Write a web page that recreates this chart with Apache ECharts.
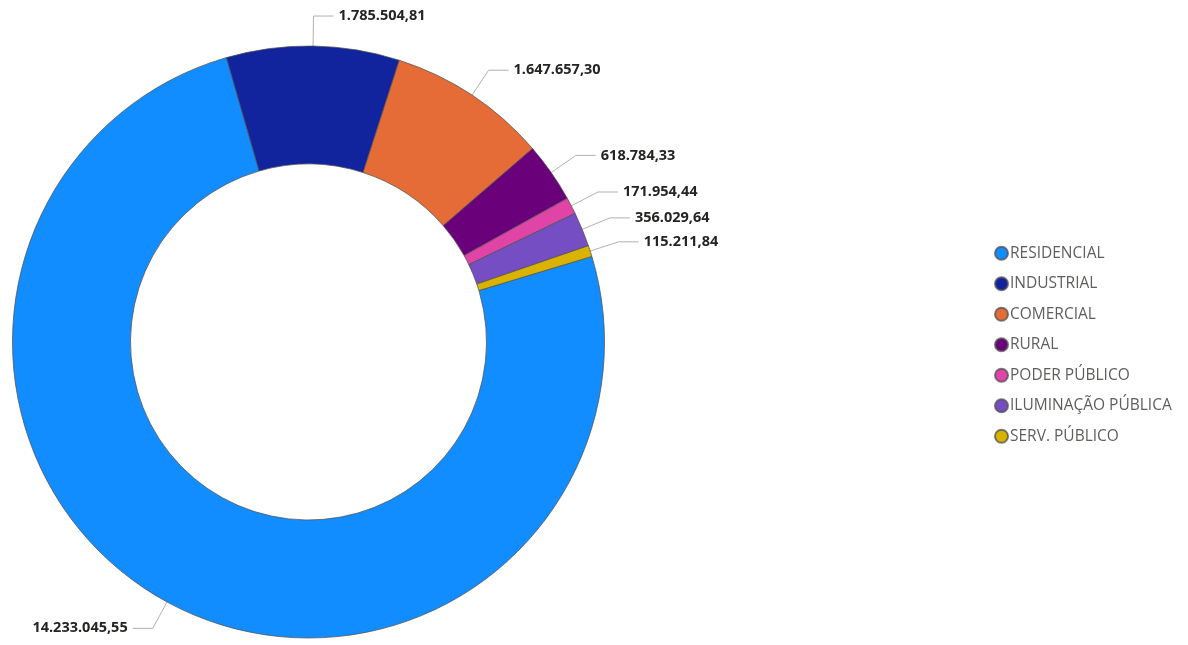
<!DOCTYPE html>
<html>
<head>
<meta charset="utf-8">
<script src="https://cdn.jsdelivr.net/npm/echarts@6/dist/echarts.min.js"></script>
<style>
html,body{margin:0;padding:0;background:#fff;}
#chart{width:1188px;height:645px;}
</style>
</head>
<body>
<div id="chart"></div>
<script>
const categories = ['RESIDENCIAL','INDUSTRIAL','COMERCIAL','RURAL','PODER PÚBLICO','ILUMINAÇÃO PÚBLICA','SERV. PÚBLICO'];
const values = [14233045.55, 1785504.81, 1647657.30, 618784.33, 171954.44, 356029.64, 115211.84];
const colors = ['#118DFF','#12239E','#E66C37','#6B007B','#E044A7','#744EC2','#D9B300'];

function fmtBR(v){
  const parts = v.toFixed(2).split('.');
  parts[0] = parts[0].replace(/\B(?=(\d{3})+(?!\d))/g, '.');
  return parts[0] + ',' + parts[1];
}

const chart = echarts.init(document.getElementById('chart'), null, {renderer:'canvas'});
chart.setOption({
  animation:false,
  color: colors,
  legend:{
    orient:'vertical',
    left:989, top:239,
    itemWidth:13, itemHeight:13, itemGap:12,
    icon:'circle',
    textStyle:{color:'#605E5C', fontSize:15.5, fontFamily:'Open Sans', padding:[0,0,0,-3], lineHeight:18.5},
    data: categories
  },
  series:[{
    type:'pie',
    center:[308.5, 342],
    radius:[178, 296],
    startAngle:16.8,
    clockwise:true,
    avoidLabelOverlap:true,
    itemStyle:{borderColor:'rgba(80,80,80,0.75)', borderWidth:1},
    label:{
      show:true,
      formatter: p => fmtBR(p.value),
      color:'#252423', fontSize:14.5, fontWeight:'bold', fontFamily:'Open Sans',
      distanceToLabelLine:5
    },
    labelLine:{show:true, length:30, length2:20, lineStyle:{color:'#B3B0AD', width:1}},
    emphasis:{disabled:true},
    data: categories.map((c,i)=>({name:c, value:values[i]}))
  }]
});
</script>
</body>
</html>
